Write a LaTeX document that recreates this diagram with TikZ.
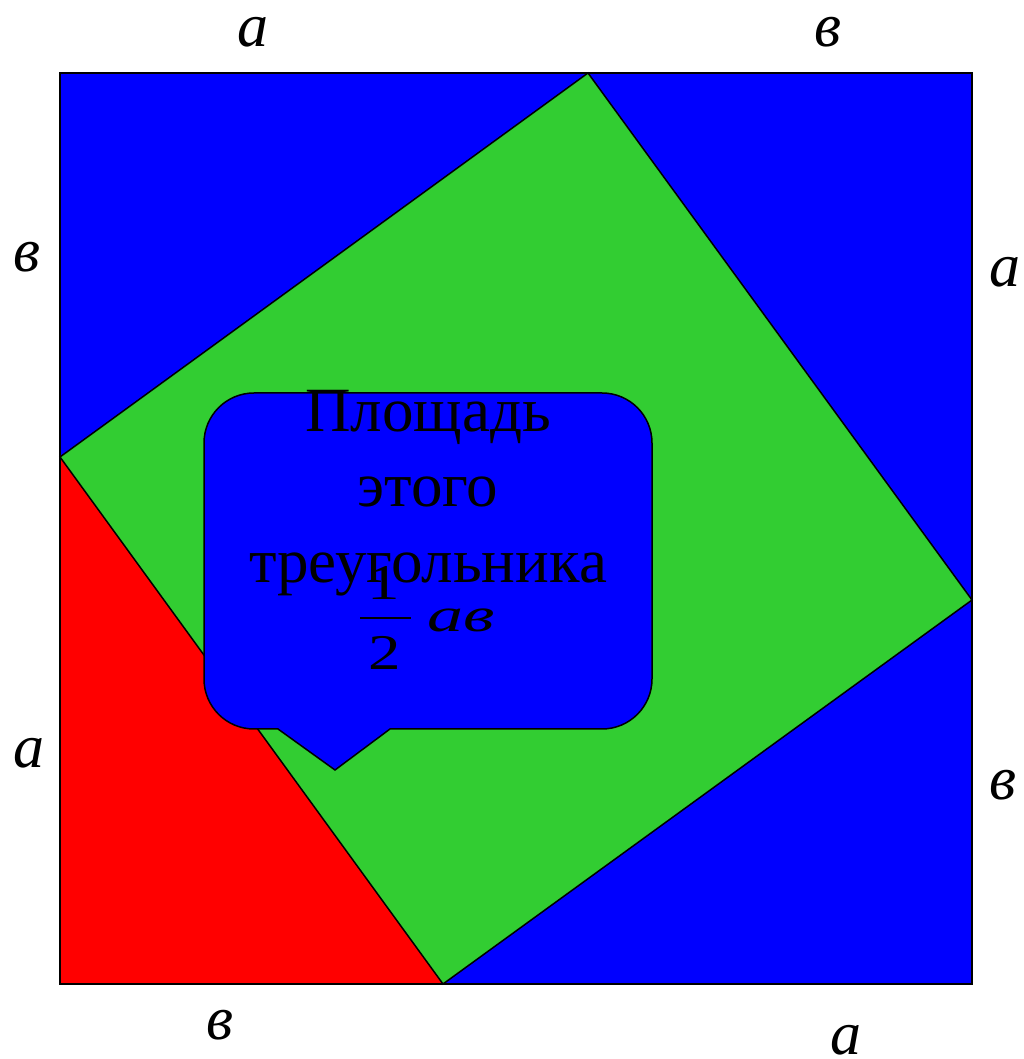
\documentclass[tikz,border=0pt]{standalone}
\usepackage{fontspec}
\setmainfont{Liberation Serif}
\definecolor{bl}{RGB}{0,0,255}
\definecolor{gr}{RGB}{50,205,50}
\definecolor{rd}{RGB}{255,0,0}
\begin{document}
\begin{tikzpicture}[x=1pt,y=1pt,
  lbl/.style={anchor=base,inner sep=0pt,font=\fontsize{62}{62}\selectfont\itshape},
  ctext/.style={anchor=base,inner sep=0pt,font=\fontsize{63}{63}\selectfont},
  frac/.style={anchor=base,inner sep=0pt,font=\fontsize{50}{50}\selectfont,xscale=1.3}]
\useasboundingbox (0,0) rectangle (1023,1059);
% outer square
\fill[bl] (60,75) rectangle (972,986);
% red triangle
\fill[rd] (60,602) -- (443,75) -- (60,75) -- cycle;
% green inner square
\draw[fill=gr,line width=1.5pt,line join=miter] (588,986) -- (972,459) -- (443,75) -- (60,602) -- cycle;
% outer border
\draw[line width=2pt] (60,75) rectangle (972,986);
% callout
\draw[fill=bl,line width=1.5pt] (254,330) -- (278,330) -- (335,289) -- (390,330) -- (602,330)
  arc[start angle=-90,end angle=0,radius=50] -- (652,616)
  arc[start angle=0,end angle=90,radius=50] -- (254,666)
  arc[start angle=90,end angle=180,radius=50] -- (204,380)
  arc[start angle=180,end angle=270,radius=50] -- cycle;
\node[ctext] (t1) at (428,627) {Площадь};
\node[ctext] (t2) at (428,552) {этого};
\node[ctext] (t3) at (428,476) {треугольника};
\node[frac] (f1) at (384,459) {1};
\draw[line width=2.5pt] (360,441) -- (411,441);
\node[frac] (f2) at (385,389) {2};
\node[frac,font=\fontsize{48}{48}\selectfont\itshape,xscale=1.5/1.3] (ab) at (461,427) {ав};
% side labels
\node[lbl] (l1) at (253,1012) {a};
\node[lbl] (l2) at (828,1012) {в};
\node[lbl] (l3) at (27,787) {в};
\node[lbl] (l4) at (1005,772) {a};
\node[lbl] (l5) at (29,291) {a};
\node[lbl] (l6) at (220,19) {в};
\node[lbl] (l7) at (1003,259) {в};
\node[lbl] (l8) at (846,5) {a};
\end{tikzpicture}
\end{document}
